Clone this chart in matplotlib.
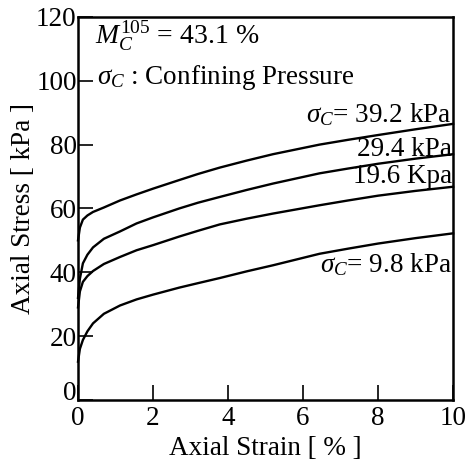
import matplotlib
matplotlib.use("Agg")
import matplotlib.pyplot as plt

plt.rcParams["font.family"] = ["Liberation Serif", "DejaVu Serif"]
plt.rcParams["mathtext.fontset"] = "custom"
plt.rcParams["mathtext.rm"] = "Liberation Serif"
plt.rcParams["mathtext.it"] = "Liberation Serif:italic"

# axial strain [%] and axial stress [kPa]
strain = [0, 0.05, 0.13, 0.25, 0.4, 0.69, 1.12, 1.56, 2.0, 2.7, 3.2, 3.78,
          4.5, 5.2, 6.44, 7.2, 8.0, 9.0, 10.0]
stress_392 = [50, 54, 56.5, 57.8, 58.9, 60.3, 62.5, 64.4, 66.2, 68.9, 70.8, 72.8,
              75.0, 77.0, 80.0, 81.5, 83.0, 84.8, 86.5]
stress_294 = [32, 38, 42.8, 45.5, 47.8, 50.5, 52.8, 55.3, 57.2, 60.0, 61.8, 63.6,
              65.8, 67.8, 71.0, 72.5, 74.0, 75.6, 77.0]
stress_196 = [29, 34, 37.0, 38.8, 40.4, 42.6, 44.8, 46.9, 48.5, 51.2, 53.0, 55.0,
              56.8, 58.4, 61.0, 62.5, 64.0, 65.5, 66.8]
stress_98 = [12, 16, 18.8, 21.5, 24.0, 27.0, 29.6, 31.5, 33.0, 35.2, 36.6, 38.2,
             40.3, 42.2, 45.8, 47.4, 49.0, 50.7, 52.2]

fs = 19.5

fig = plt.figure(figsize=(4.7, 4.7), dpi=100)
ax = fig.add_axes([0.166, 0.149, 0.798, 0.815])

for s in (stress_392, stress_294, stress_196, stress_98):
    ax.plot(strain, s, color="black", lw=1.7, clip_on=False, zorder=3)

ax.set_xlim(0, 10)
ax.set_ylim(0, 120)
ax.set_xticks([0, 2, 4, 6, 8, 10])
ax.set_yticks([0, 20, 40, 60, 80, 100, 120])
ax.tick_params(direction="in", length=11, width=1.2, labelsize=fs,
               top=False, right=False, colors="black")
ax.tick_params(axis="y", pad=1)
ax.tick_params(axis="x", pad=4)
for sp in ax.spines.values():
    sp.set_linewidth(1.8)

# the y "0" sits on the bottom spine, above the x "0"
fig.canvas.draw()
ax.get_yticklabels()[0].set_verticalalignment("baseline")

ax.set_xlabel("Axial Strain [ % ]", fontsize=fs, labelpad=4)
ax.set_ylabel("Axial Stress [ kPa ]", fontsize=fs, labelpad=0)

ax.text(0.45, 111.5, r"$M_C^{\mathit{105}}$ = 43.1 %", fontsize=20, va="baseline")
ax.text(0.5, 99, r"$\sigma_C$ : Confining Pressure", fontsize=fs, va="baseline")
ax.text(9.97, 87, r"$\sigma_C$= 39.2 kPa", fontsize=fs, ha="right", va="baseline")
ax.text(9.97, 76.5, "29.4 kPa", fontsize=fs, ha="right", va="baseline")
ax.text(9.97, 68, "19.6 Kpa", fontsize=fs, ha="right", va="baseline")
ax.text(9.97, 40, r"$\sigma_C$= 9.8 kPa", fontsize=fs, ha="right", va="baseline")

fig.savefig("out.png", dpi=100)
plt.close(fig)
